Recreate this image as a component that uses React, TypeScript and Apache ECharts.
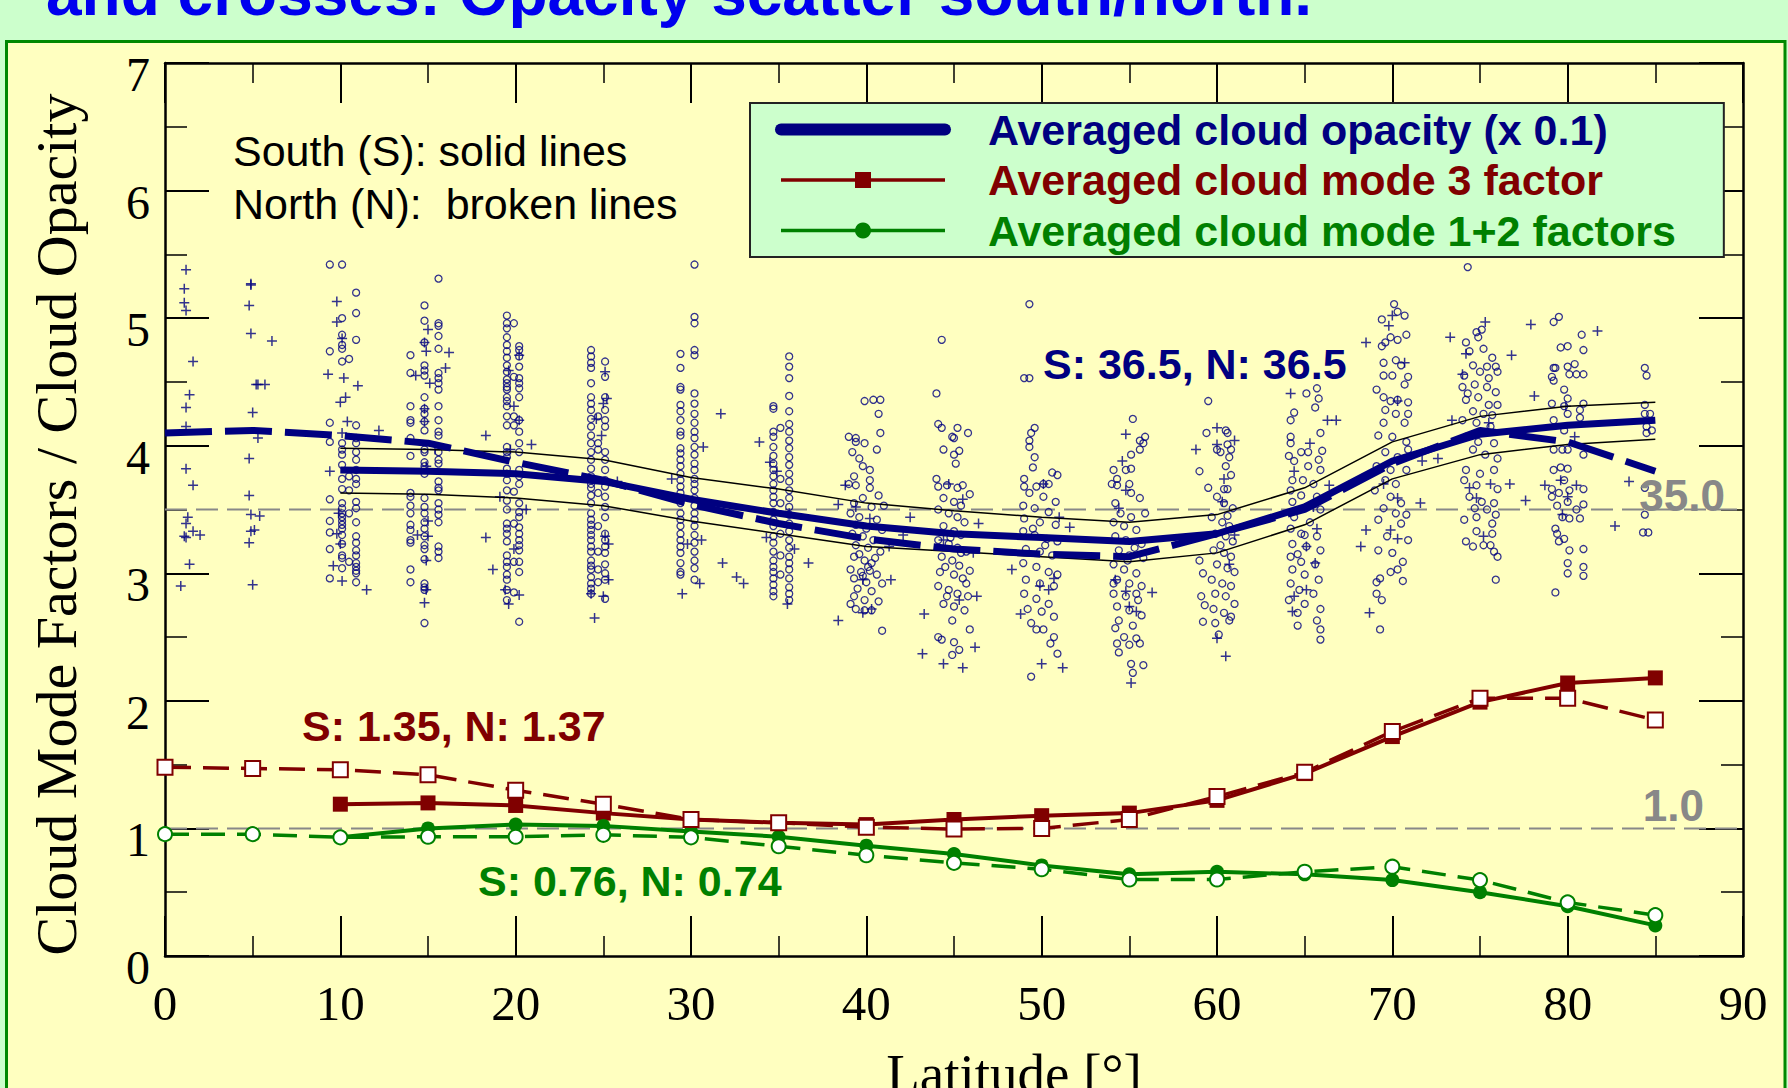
import React, { useEffect, useRef } from "react";
import * as echarts from "echarts";

const NAVY = "#000080";
const DRED = "#800000";
const GREEN = "#008000";
const GRAY = "#888888";

const LEG1 = "Averaged cloud opacity (x 0.1)";
const LEG2 = "Averaged cloud mode 3 factor";
const LEG3 = "Averaged cloud mode 1+2 factors";

// latitude bins
const latS = [10, 15, 20, 25, 30, 35, 40, 45, 50, 55, 60, 65, 70, 75, 80, 85];
const latN = [0, 5, 10, 15, 20, 25, 30, 35, 40, 45, 50, 55, 60, 65, 70, 75, 80, 85];

// averaged cloud opacity (x 0.1)
const opacityS = [3.81, 3.8, 3.78, 3.72, 3.58, 3.47, 3.37, 3.31, 3.28, 3.25, 3.31, 3.52, 3.88, 4.09, 4.16, 4.2];
const opacityN = [4.1, 4.12, 4.08, 4.02, 3.87, 3.73, 3.54, 3.39, 3.27, 3.19, 3.15, 3.13, 3.31, 3.5, 3.86, 4.12, 4.03, 3.8];
const opacitySUpper = [3.98, 3.97, 3.95, 3.89, 3.75, 3.66, 3.55, 3.49, 3.44, 3.4, 3.46, 3.67, 4.03, 4.23, 4.31, 4.34];
const opacitySLower = [3.63, 3.62, 3.59, 3.53, 3.41, 3.31, 3.21, 3.17, 3.13, 3.09, 3.16, 3.38, 3.74, 3.93, 4.01, 4.05];

// cloud mode factors
const mode3S = [1.19, 1.2, 1.18, 1.12, 1.07, 1.045, 1.03, 1.07, 1.1, 1.12, 1.22, 1.43, 1.72, 1.99, 2.14, 2.18];
const mode3N = [1.48, 1.47, 1.46, 1.42, 1.3, 1.19, 1.07, 1.045, 1.01, 0.995, 1.0, 1.07, 1.25, 1.44, 1.76, 2.02, 2.02, 1.85];
const mode12S = [0.93, 1.0, 1.03, 1.02, 0.975, 0.935, 0.865, 0.8, 0.71, 0.64, 0.66, 0.64, 0.595, 0.5, 0.39, 0.24];
const mode12N = [0.955, 0.955, 0.93, 0.935, 0.935, 0.95, 0.93, 0.86, 0.79, 0.73, 0.68, 0.6, 0.6, 0.66, 0.7, 0.595, 0.42, 0.32];

// reference levels
const refLevels = [3.5, 1.0];
const refLabels = ["35.0", "1.0"];
const xRange = [0, 90];
const yRange = [0, 7];

// south opacity scatter (circles), columns: [latitude, values]
const southCols = [
  [9.4, [5.42, 4.74, 4.18, 4.03, 3.58, 3.41, 3.32, 3.19, 2.96]],
  [10.1, [5.42, 5.0, 4.87, 4.79, 4.76, 4.66, 4.02, 3.97, 3.93, 3.85, 3.74, 3.66, 3.55, 3.51, 3.47, 3.44, 3.41, 3.38, 3.35, 3.3, 3.23, 3.14, 3.12, 3.04]],
  [10.5, [4.68, 3.76, 3.65, 3.47, 3.09]],
  [10.9, [5.2, 5.04, 4.83, 4.16, 4.06, 4.02, 3.95, 3.89, 3.81, 3.74, 3.7, 3.56, 3.51, 3.4, 3.29, 3.24, 3.18, 3.14, 3.08, 3.05, 3.02, 3.0, 2.93]],
  [14.0, [4.71, 4.57, 4.31, 4.2, 4.18, 4.06, 3.92, 3.63, 3.6, 3.53, 3.47, 3.38, 3.34, 3.26, 3.24, 3.03, 2.93]],
  [14.8, [5.1, 4.98, 4.81, 4.63, 4.59, 4.55, 4.38, 4.29, 4.25, 4.19, 4.12, 3.97, 3.95, 3.87, 3.84, 3.78, 3.59, 3.52, 3.47, 3.4, 3.35, 3.29, 3.22, 3.19, 3.11, 2.92, 2.89, 2.87, 2.61]],
  [15.6, [5.31, 4.96, 4.94, 4.86, 4.76, 4.57, 4.53, 4.49, 4.44, 4.31, 4.2, 4.11, 4.08, 3.95, 3.89, 3.86, 3.72, 3.67, 3.65, 3.55, 3.5, 3.46, 3.4, 3.21, 3.17, 3.12]],
  [19.5, [5.02, 4.96, 4.92, 4.85, 4.79, 4.74, 4.69, 4.63, 4.58, 4.52, 4.49, 4.46, 4.44, 4.38, 4.35, 4.31, 4.23, 4.16, 3.99, 3.95, 3.91, 3.82, 3.78, 3.73, 3.65, 3.57, 3.5, 3.39, 3.35, 3.31, 3.25, 3.14, 3.09, 3.05, 2.99, 2.95, 2.87, 2.79]],
  [19.9, [4.96, 4.54, 4.23, 4.16, 3.64, 3.39, 3.09, 2.85]],
  [20.2, [4.78, 4.75, 4.7, 4.62, 4.53, 4.49, 4.45, 4.38, 4.2, 4.11, 4.02, 3.95, 3.81, 3.76, 3.7, 3.55, 3.48, 3.44, 3.36, 3.31, 3.26, 3.22, 3.18, 3.09, 3.01, 2.62]],
  [24.3, [4.75, 4.7, 4.65, 4.61, 4.49, 4.38, 4.33, 4.28, 4.21, 4.15, 4.08, 4.02, 3.95, 3.89, 3.82, 3.76, 3.7, 3.67, 3.61, 3.55, 3.47, 3.42, 3.38, 3.34, 3.3, 3.26, 3.21, 3.17, 3.1, 3.06, 3.03, 2.97, 2.92, 2.88, 2.84]],
  [24.7, [4.23, 4.02, 3.97, 3.63, 3.37, 3.17, 3.03, 2.93]],
  [25.1, [4.66, 4.54, 4.38, 4.28, 4.2, 4.15, 3.95, 3.89, 3.81, 3.73, 3.68, 3.6, 3.52, 3.44, 3.31, 3.26, 3.21, 3.16, 3.07, 3.0, 2.95, 2.8]],
  [29.4, [4.72, 4.61, 4.46, 4.44, 4.32, 4.27, 4.2, 4.11, 4.08, 3.98, 3.94, 3.89, 3.84, 3.78, 3.73, 3.68, 3.63, 3.55, 3.47, 3.42, 3.37, 3.31, 3.26, 3.21, 3.16, 3.08, 3.01, 2.99]],
  [30.2, [5.42, 5.01, 4.96, 4.75, 4.71, 4.41, 4.33, 4.25, 4.18, 4.11, 4.06, 3.99, 3.93, 3.86, 3.81, 3.74, 3.7, 3.65, 3.59, 3.53, 3.47, 3.42, 3.37, 3.3, 3.24, 3.17, 3.1, 3.04, 2.95]],
  [34.7, [4.31, 4.29, 4.11, 4.07, 3.99, 3.92, 3.86, 3.81, 3.76, 3.7, 3.65, 3.6, 3.55, 3.48, 3.42, 3.37, 3.29, 3.24, 3.17, 3.1, 3.05, 3.01, 2.96, 2.91, 2.86, 2.82]],
  [35.1, [4.14, 3.74, 3.55, 3.31, 3.14, 2.99]],
  [35.6, [4.7, 4.62, 4.53, 4.39, 4.27, 4.17, 4.11, 4.04, 3.98, 3.91, 3.85, 3.78, 3.72, 3.65, 3.59, 3.52, 3.46, 3.39, 3.33, 3.26, 3.2, 3.13, 3.08, 3.03, 2.96, 2.89, 2.84, 2.79]],
];

const south40 = [[40.4,4.36],[40.8,4.36],[39.9,4.35],[40.7,4.25],[40.8,4.1],[39.0,4.07],[39.4,4.06],[39.9,4.02],[39.4,4.03],[39.2,3.95],[40.6,3.97],[39.6,3.9],[39.8,3.84],[40.2,3.81],[39.3,3.76],[40.2,3.73],[39.0,3.7],[39.4,3.69],[40.2,3.67],[40.7,3.61],[39.8,3.59],[39.3,3.55],[40.3,3.52],[41.0,3.53],[39.1,3.47],[39.6,3.44],[40.6,3.42],[39.4,3.38],[40.0,3.35],[40.9,3.34],[39.2,3.31],[39.8,3.29],[40.4,3.26],[39.4,3.22],[40.1,3.2],[40.8,3.17],[39.3,3.13],[39.9,3.1],[40.3,3.08],[39.1,3.03],[39.7,3.01],[40.6,2.99],[39.3,2.96],[40.0,2.93],[40.9,2.92],[39.5,2.88],[40.3,2.86],[39.3,2.82],[39.9,2.79],[40.7,2.78],[39.1,2.76],[39.4,2.72],[39.9,2.71],[40.3,2.71],[40.9,2.55],[40.1,3.05],[39.6,3.15],[40.5,3.12],[39.8,2.98],[40.2,3.02]];
const south45 = [[44.3,4.83],[44.0,4.41],[44.1,4.17],[44.3,4.14],[45.2,4.14],[45.8,4.1],[44.9,4.07],[45.0,4.06],[44.4,3.97],[45.3,3.96],[45.0,3.93],[45.1,3.86],[44.0,3.74],[44.1,3.68],[44.6,3.69],[45.2,3.67],[45.5,3.69],[45.9,3.62],[44.4,3.59],[45.0,3.56],[45.4,3.53],[44.1,3.5],[44.7,3.47],[45.2,3.44],[45.6,3.4],[44.4,3.37],[45.0,3.33],[45.4,3.3],[44.1,3.26],[44.7,3.23],[45.2,3.2],[45.7,3.17],[44.3,3.13],[44.9,3.1],[45.3,3.06],[44.2,3.01],[45.0,2.99],[45.5,2.96],[45.9,3.02],[44.1,2.9],[44.7,2.87],[45.2,2.84],[45.8,2.82],[44.4,2.76],[45.0,2.74],[45.6,2.71],[44.9,2.63],[45.9,2.56],[44.1,2.5],[44.3,2.48],[45.0,2.46],[45.3,2.4],[44.9,2.36],[44.6,2.82],[45.7,2.92],[44.8,3.28],[45.4,3.16],[44.5,3.05]];
const south50 = [[49.3,5.11],[49.0,4.53],[49.3,4.53],[49.6,4.14],[49.4,4.1],[49.3,4.04],[49.3,3.99],[49.6,3.91],[49.5,3.83],[50.6,3.79],[50.9,3.77],[49.0,3.74],[49.0,3.68],[49.7,3.68],[50.1,3.7],[50.4,3.7],[49.3,3.63],[50.1,3.6],[50.8,3.56],[48.95,3.53],[49.6,3.51],[50.4,3.48],[49.0,3.43],[49.9,3.4],[50.8,3.38],[48.95,3.33],[49.6,3.3],[50.3,3.27],[50.9,3.25],[49.1,3.19],[49.9,3.17],[50.6,3.14],[48.95,3.08],[49.7,3.05],[50.4,3.01],[50.9,2.99],[49.1,2.95],[49.9,2.92],[50.7,2.9],[49.0,2.84],[49.7,2.8],[50.4,2.76],[49.2,2.72],[50.0,2.7],[50.7,2.66],[49.4,2.61],[50.1,2.56],[50.7,2.5],[50.9,2.37],[49.4,2.19],[50.5,2.45],[49.7,2.56],[50.2,3.22],[49.5,3.35]];
const south55 = [[55.2,4.21],[55.9,4.07],[55.6,4.04],[55.8,4.02],[55.6,3.97],[55.1,3.93],[54.1,3.81],[54.8,3.81],[55.1,3.82],[54.3,3.74],[54.0,3.7],[54.3,3.69],[55.0,3.7],[55.1,3.63],[55.6,3.59],[54.2,3.55],[54.5,3.47],[55.1,3.44],[55.9,3.47],[54.1,3.4],[54.7,3.37],[55.4,3.34],[54.2,3.29],[54.8,3.26],[55.7,3.23],[54.4,3.18],[55.0,3.14],[55.8,3.12],[54.1,3.07],[54.7,3.03],[55.4,3.0],[54.3,2.95],[55.0,2.92],[55.7,2.9],[54.1,2.84],[54.8,2.82],[55.5,2.79],[54.3,2.74],[55.0,2.71],[55.7,2.67],[54.4,2.63],[55.2,2.59],[54.2,2.57],[54.7,2.5],[55.4,2.49],[54.3,2.45],[55.0,2.44],[55.6,2.45],[54.4,2.38],[55.1,2.29],[55.8,2.28],[55.2,2.22],[54.1,2.92],[55.4,2.84],[54.9,3.1],[55.3,3.2]];
const south60 = [[60.5,4.12],[60.6,4.1],[60.0,3.97],[60.2,3.95],[60.8,3.97],[60.6,4.01],[60.7,3.91],[60.5,3.84],[60.8,3.77],[60.4,3.66],[60.6,3.66],[60.0,3.6],[60.4,3.55],[60.9,3.51],[59.7,3.44],[60.3,3.4],[60.7,3.37],[59.9,3.31],[60.5,3.29],[60.9,3.25],[59.8,3.18],[60.4,3.16],[60.8,3.13],[60.0,3.07],[60.6,3.04],[61.0,3.01],[59.7,2.95],[60.3,2.92],[60.8,2.9],[59.9,2.84],[60.5,2.82],[61.0,2.76],[59.8,2.72],[60.4,2.69],[60.8,2.66],[59.9,2.61],[60.1,2.52],[60.7,2.63],[59.0,3.8],[59.4,4.1],[59.5,4.35],[59.5,3.67],[59.2,2.62],[59.1,2.82],[59.3,2.75],[59.2,3.0],[59.0,3.1],[60.2,3.22],[60.6,3.45]];
const south65 = [[65.7,4.45],[65.1,4.41],[65.8,4.37],[64.4,4.26],[65.6,4.3],[64.2,4.2],[65.9,4.1],[64.2,4.07],[64.2,4.02],[66.0,3.96],[64.8,3.95],[65.2,3.95],[64.1,3.92],[65.8,3.89],[64.4,3.88],[65.2,3.84],[65.9,3.81],[64.3,3.73],[64.9,3.73],[65.5,3.7],[64.2,3.65],[64.8,3.61],[65.7,3.6],[64.3,3.56],[65.1,3.52],[65.9,3.5],[64.4,3.44],[65.3,3.4],[64.2,3.35],[64.8,3.31],[65.7,3.29],[64.3,3.23],[65.1,3.21],[65.9,3.18],[64.2,3.13],[64.8,3.09],[65.6,3.07],[64.3,3.03],[65.0,2.99],[65.8,2.95],[64.2,2.92],[64.7,2.87],[65.5,2.84],[64.1,2.79],[65.0,2.76],[65.9,2.72],[64.6,2.69],[65.7,2.63],[64.6,2.59],[65.9,2.56],[65.9,2.48],[65.0,3.3],[64.6,3.15]];
const south70 = [[70.1,5.11],[70.3,5.05],[70.7,5.02],[69.4,4.99],[69.9,4.85],[70.3,4.83],[70.8,4.87],[69.4,4.78],[69.6,4.81],[69.5,4.65],[70.2,4.67],[70.5,4.63],[69.5,4.55],[70.0,4.55],[70.9,4.54],[70.7,4.48],[69.1,4.44],[69.5,4.38],[69.9,4.35],[70.3,4.36],[70.9,4.34],[69.6,4.28],[70.2,4.25],[70.9,4.25],[69.5,4.18],[70.7,4.18],[69.2,4.08],[70.0,4.07],[70.8,4.03],[69.6,3.95],[70.3,3.91],[70.9,3.97],[69.1,3.84],[69.9,3.81],[70.8,3.81],[69.6,3.73],[70.2,3.7],[69.0,3.65],[69.9,3.6],[70.5,3.55],[69.5,3.51],[70.2,3.47],[70.8,3.46],[69.2,3.42],[69.7,3.29],[70.5,3.39],[70.9,3.26],[69.2,3.18],[70.0,3.16],[70.6,3.09],[69.9,3.01],[70.3,3.03],[69.1,2.93],[70.6,2.94],[69.1,2.84],[69.4,2.79],[69.3,2.56],[69.3,2.96]];
const south75 = [[74.3,5.4],[74.8,4.89],[75.1,4.91],[74.9,4.85],[74.2,4.81],[75.2,4.76],[74.4,4.74],[75.7,4.69],[74.6,4.63],[75.4,4.62],[75.9,4.62],[75.0,4.58],[74.1,4.55],[75.5,4.53],[76.0,4.58],[74.7,4.48],[75.4,4.46],[74.0,4.46],[75.9,4.42],[74.3,4.41],[74.9,4.38],[74.2,4.36],[75.5,4.32],[76.0,4.32],[74.6,4.27],[75.2,4.25],[75.7,4.24],[74.0,4.2],[74.8,4.18],[75.6,4.15],[74.2,4.07],[74.9,4.03],[75.8,4.02],[74.6,3.97],[75.3,3.93],[76.0,3.9],[74.2,3.81],[75.0,3.78],[75.8,3.81],[74.1,3.73],[74.8,3.69],[76.0,3.66],[74.4,3.6],[75.1,3.56],[75.8,3.55],[74.7,3.51],[75.4,3.5],[75.9,3.46],[74.1,3.42],[74.8,3.44],[75.7,3.39],[74.8,3.33],[75.7,3.31],[74.2,3.25],[74.6,3.21],[75.2,3.22],[75.6,3.22],[75.8,3.17],[76.0,3.13],[75.9,2.95]];
const south80 = [[79.2,4.97],[79.5,5.01],[79.6,4.77],[80.0,4.78],[80.8,4.87],[80.9,4.75],[79.2,4.61],[79.3,4.61],[80.0,4.62],[80.4,4.64],[80.9,4.56],[79.1,4.54],[79.2,4.51],[80.1,4.56],[80.5,4.56],[79.8,4.44],[80.0,4.37],[79.1,4.33],[79.8,4.31],[80.0,4.25],[80.7,4.28],[80.9,4.33],[80.7,4.22],[79.2,4.2],[79.8,4.12],[79.2,3.97],[79.7,3.97],[80.0,3.97],[80.9,3.93],[79.2,3.81],[79.6,3.83],[80.0,3.82],[79.8,3.73],[79.1,3.66],[80.1,3.65],[80.9,3.66],[79.1,3.6],[79.5,3.63],[80.0,3.56],[79.4,3.53],[80.9,3.54],[80.5,3.5],[79.7,3.44],[80.1,3.43],[80.7,3.43],[79.3,3.35],[79.4,3.31],[79.5,3.25],[79.8,3.27],[80.1,3.18],[80.9,3.19],[80.0,3.08],[80.9,3.05],[80.9,2.98],[80.0,3.0],[79.3,2.85]];
const south85 = [[84.4,4.61],[84.5,4.55],[84.4,4.32],[84.4,4.25],[84.7,4.25],[84.5,4.15],[84.8,4.12],[84.5,4.1],[84.4,3.67],[84.4,3.46],[84.3,3.32],[84.6,3.32]];

// north opacity scatter (crosses)
const north0 = [[1.2,5.38],[1.1,5.23],[1.1,5.12],[1.2,5.06],[1.6,4.66],[1.4,4.4],[1.2,4.3],[1.2,4.15],[1.2,3.82],[1.6,3.69],[1.3,3.44],[1.2,3.39],[1.1,3.29],[1.6,3.33],[2.0,3.3],[1.2,3.28],[1.4,3.07],[0.9,2.9]];
const north5 = [[4.9,5.27],[4.9,5.26],[4.8,5.1],[4.9,4.88],[6.1,4.82],[5.2,4.48],[5.3,4.48],[5.7,4.48],[5.0,4.26],[5.3,4.06],[4.8,3.9],[4.8,3.61],[4.9,3.46],[5.4,3.45],[4.9,3.33],[5.1,3.34],[4.8,3.24],[5.0,2.91]];
const north10 = [[9.8,5.13],[9.8,4.97],[10.1,4.84],[9.3,4.56],[10.2,4.53],[11.0,4.47],[10.0,4.34],[10.3,4.38],[10.4,4.19],[10.1,4.1],[12.2,4.12],[9.4,3.8],[9.9,3.47],[9.8,3.31],[10.0,3.23],[9.6,3.06],[10.1,2.94],[11.5,2.87]];
const north15 = [[15.0,4.91],[14.9,4.74],[16.2,4.73],[14.8,4.81],[16.0,4.61],[14.3,4.55],[15.1,4.49],[14.8,4.29],[14.8,4.19],[15.4,3.97],[14.9,3.84],[15.0,3.41],[15.0,3.29],[14.4,3.3],[14.9,3.1],[14.9,2.87],[14.8,2.77]];
const north20 = [[20.2,4.71],[19.6,4.59],[19.9,4.31],[20.2,4.2],[18.3,4.08],[20.9,4.01],[19.7,3.97],[19.1,3.6],[20.6,3.5],[18.3,3.28],[19.9,3.19],[18.7,3.03],[19.4,2.87],[20.2,2.83],[19.6,2.76]];
const north25 = [[25.1,4.58],[25.2,4.37],[25.0,4.33],[24.6,4.21],[24.9,4.08],[25.8,3.72],[25.1,3.29],[25.3,3.23],[25.3,2.95],[24.5,2.65],[24.3,2.84],[25.0,2.82]];
const north30 = [[28.9,3.74],[29.8,3.23],[29.5,2.84],[30.7,3.99],[30.6,3.26],[30.5,2.92],[31.7,4.25],[31.8,3.08],[32.6,2.97],[33.0,2.92]];
const north35 = [[33.9,4.03],[34.5,3.87],[34.9,3.8],[34.3,3.28],[35.5,2.76],[35.9,3.19],[36.7,3.08],[38.4,3.54],[35.6,3.47]];
const north40 = [[38.8,3.69],[42.1,3.3],[42.5,3.44],[41.4,2.95],[41.3,3.21],[38.4,2.63],[39.8,2.69],[40.3,2.72],[39.8,2.95],[39.4,3.52],[40.2,3.43]];
const north45 = [[44.7,3.7],[45.5,3.58],[46.4,3.39],[44.4,3.26],[46.1,3.16],[43.3,2.68],[43.2,2.37],[44.4,2.29],[45.5,2.26],[46.2,2.42],[45.3,2.79],[46.3,2.82]];
const north50 = [[48.3,3.03],[48.8,2.68],[50.0,2.29],[51.2,2.26],[51.6,3.36],[51.0,3.44],[50.4,2.87],[49.9,2.9],[50.7,2.96],[50.1,3.7]];
const north55 = [[54.8,4.09],[54.6,3.88],[54.8,3.65],[54.4,3.51],[56.3,2.85],[55.0,2.74],[55.4,2.7],[55.1,2.14],[54.8,2.86],[54.2,2.95]];
const north60 = [[60.0,4.14],[60.0,4.01],[61.0,4.04],[60.4,3.74],[60.3,3.56],[58.8,3.97],[60.0,2.49],[60.5,2.35],[61.0,3.3],[60.7,3.07]];
const north65 = [[64.2,4.41],[66.3,4.2],[66.8,4.2],[65.3,4.02],[64.4,3.8],[66.4,3.69],[65.5,3.52],[65.7,3.35],[65.1,3.21],[65.6,3.08],[65.1,2.87],[64.3,2.7],[64.4,2.82]];
const north70 = [[68.5,4.81],[70.0,5.02],[69.8,4.94],[70.7,4.65],[70.3,4.35],[73.4,4.2],[71.7,3.88],[72.6,3.9],[71.6,3.55],[68.5,3.34],[69.9,3.34],[70.3,3.27],[68.2,3.21],[68.7,2.69],[69.5,3.7],[70.3,3.59]];
const north75 = [[75.3,4.97],[73.3,4.85],[74.2,4.72],[76.8,4.71],[74.0,4.56],[78.1,4.39],[75.5,4.18],[76.7,3.7],[77.6,3.57],[74.4,3.67],[74.8,3.59],[75.6,3.7],[75.2,3.29]];
const north80 = [[77.9,4.95],[81.7,4.9],[78.7,3.69],[79.6,3.73],[80.5,3.69],[80.0,3.6],[79.7,3.46],[82.7,3.37],[83.5,3.72],[79.9,4.31],[80.4,4.07]];

const pairs = (xs: number[], ys: number[]) => xs.map((x, i) => [x, ys[i]]);
const flatCols = (cols: any[]) => cols.flatMap(([lat, vals]: [number, number[]]) => vals.map((v) => [lat, v]));

const southScatter = [
  ...flatCols(southCols), ...south40, ...south45, ...south50, ...south55, ...south60,
  ...south65, ...south70, ...south75, ...south80, ...south85,
];
const northScatter = [
  ...north0, ...north5, ...north10, ...north15, ...north20, ...north25, ...north30, ...north35,
  ...north40, ...north45, ...north50, ...north55, ...north60, ...north65, ...north70, ...north75, ...north80,
];

const SANS = '"Liberation Sans", Arial, Helvetica, sans-serif';
const SERIF = '"Liberation Serif", "Times New Roman", Times, serif';

function buildOption(): any {
  const axisLineStyle = { color: "#000", width: 2.5 };
  const tickStyle = { color: "#000", width: 2 };
  const minorStyle = { color: "#000", width: 1.5 };
  const xBase = {
    type: "value",
    min: xRange[0],
    max: xRange[1],
    interval: 10,
    axisLine: { show: true, onZero: false, lineStyle: axisLineStyle },
    axisTick: { show: true, inside: true, length: 40, lineStyle: tickStyle },
    minorTick: { show: true, splitNumber: 2, length: 20, lineStyle: minorStyle },
    splitLine: { show: false },
    minorSplitLine: { show: false },
  };
  const yBase = {
    type: "value",
    min: yRange[0],
    max: yRange[1],
    interval: 1,
    axisLine: { show: true, onZero: false, lineStyle: axisLineStyle },
    axisTick: { show: true, inside: true, length: 44, lineStyle: tickStyle },
    minorTick: { show: true, splitNumber: 2, length: 22, lineStyle: minorStyle },
    splitLine: { show: false },
    minorSplitLine: { show: false },
  };

  const refSeries = refLevels.map((lv, i) => ({
    name: "Reference " + refLabels[i],
    type: "line",
    data: [[xRange[0], lv], [xRange[1], lv]],
    symbol: "none",
    smooth: false,
    silent: true,
    lineStyle: { color: GRAY, width: 2, type: [22, 9] },
    z: 1,
  }));

  const txt = (x: number, y: number, text: string, fill: string, size: number, weight: string, align = "left") => ({
    type: "text",
    x,
    y,
    z: 10,
    silent: true,
    style: { text, fill, fontFamily: SANS, fontWeight: weight, fontSize: size, verticalAlign: "middle", align },
  });

  return {
    animation: false,
    backgroundColor: "#CCFFCC",
    grid: { left: 165, top: 63, width: 1578, height: 893, containLabel: false, outerBoundsMode: "none" },
    xAxis: [
      {
        ...xBase,
        position: "bottom",
        axisLabel: { show: true, margin: 23, fontFamily: SERIF, fontSize: 49, color: "#000" },
        name: "Latitude [°]",
        nameLocation: "middle",
        nameGap: 90,
        nameMoveOverlap: false,
        nameTextStyle: { fontFamily: SERIF, fontSize: 55, color: "#000", padding: [0, 0, 0, 120] },
      },
      { ...xBase, position: "top", axisLabel: { show: false } },
    ],
    yAxis: [
      {
        ...yBase,
        position: "left",
        axisLabel: {
          show: true, margin: 15, fontFamily: SERIF, fontSize: 48, color: "#000",
          verticalAlign: "top", lineHeight: 23,
        },
        name: "Cloud Mode Factors / Cloud Opacity",
        nameLocation: "middle",
        nameRotate: 90,
        nameGap: 80,
        nameMoveOverlap: false,
        nameTextStyle: { fontFamily: SERIF, fontSize: 58, color: "#000", padding: [0, 30, 0, 0] },
      },
      { ...yBase, position: "right", axisLabel: { show: false } },
    ],
    legend: {
      show: true,
      orient: "vertical",
      left: 750,
      top: 103,
      selectedMode: false,
      itemWidth: 164,
      itemHeight: 20,
      itemGap: 7.5,
      padding: [5, 48, 5, 25],
      backgroundColor: "#CCFFCC",
      borderColor: "#222",
      borderWidth: 2,
      borderRadius: 0,
      textStyle: { fontFamily: SANS, fontWeight: "bold", fontSize: 43, lineHeight: 42, padding: [0, 0, 0, 38] },
      data: [
        { name: LEG1, textStyle: { color: NAVY }, itemStyle: { opacity: 0 }, lineStyle: { width: 12, cap: "round", color: NAVY } },
        { name: LEG2, textStyle: { color: DRED }, lineStyle: { width: 3.5, color: DRED } },
        { name: LEG3, textStyle: { color: GREEN }, lineStyle: { width: 3.5, color: GREEN } },
      ],
    },
    graphic: [
      {
        type: "rect",
        z: -1,
        silent: true,
        shape: { x: 6.5, y: 41.5, width: 1778.5, height: 1100 },
        style: { fill: "#FFFFC0", stroke: "#008800", lineWidth: 3 },
      },
      txt(46, -7, "and crosses: Opacity scatter south/north.", "#0000EE", 64, "bold"),
      txt(233, 151, "South (S): solid lines", "#000", 43, "normal"),
      txt(233, 204, "North (N):  broken lines", "#000", 43, "normal"),
      txt(1043, 364, "S: 36.5, N: 36.5", NAVY, 43, "bold"),
      txt(302, 726, "S: 1.35, N: 1.37", DRED, 43, "bold"),
      txt(478, 881, "S: 0.76, N: 0.74", GREEN, 43, "bold"),
      txt(1725, 495, refLabels[0], GRAY, 44, "bold", "right"),
      txt(1704, 805, refLabels[1], GRAY, 44, "bold", "right"),
    ],
    series: [
      {
        name: LEG1, type: "line", data: pairs(latS, opacityS), symbol: "none", smooth: false,
        lineStyle: { color: NAVY, width: 7 }, itemStyle: { color: NAVY }, z: 5,
      },
      {
        name: LEG2, type: "line", data: pairs(latS, mode3S), symbol: "rect", symbolSize: 15, smooth: false,
        itemStyle: { color: DRED }, lineStyle: { color: DRED, width: 4 }, z: 6,
      },
      {
        name: LEG3, type: "line", data: pairs(latS, mode12S), symbol: "circle", symbolSize: 14, smooth: false,
        itemStyle: { color: GREEN }, lineStyle: { color: GREEN, width: 4 }, z: 6,
      },
      {
        name: LEG1, type: "line", data: pairs(latN, opacityN), symbol: "none", smooth: false,
        lineStyle: { color: NAVY, width: 7, type: [47, 13] }, itemStyle: { color: NAVY }, z: 5,
      },
      {
        name: LEG2, type: "line", data: pairs(latN, mode3N), symbol: "rect", symbolSize: 15, smooth: false,
        itemStyle: { color: "#FFFFFF", borderColor: DRED, borderWidth: 2 },
        lineStyle: { color: DRED, width: 3.5, type: [26, 12] }, z: 6,
      },
      {
        name: LEG3, type: "line", data: pairs(latN, mode12N), symbol: "circle", symbolSize: 14, smooth: false,
        itemStyle: { color: "#FFFFFF", borderColor: GREEN, borderWidth: 2 },
        lineStyle: { color: GREEN, width: 3.5, type: [24, 12] }, z: 6,
      },
      {
        name: "South opacity upper bound", type: "line", data: pairs(latS, opacitySUpper), symbol: "none", smooth: false,
        lineStyle: { color: "#000", width: 1.5 }, z: 4, silent: true,
      },
      {
        name: "South opacity lower bound", type: "line", data: pairs(latS, opacitySLower), symbol: "none", smooth: false,
        lineStyle: { color: "#000", width: 1.5 }, z: 4, silent: true,
      },
      ...refSeries,
      {
        name: "South opacity (circles)", type: "scatter", data: southScatter, symbol: "circle", symbolSize: 7,
        itemStyle: { color: "rgba(0,0,0,0)", borderColor: NAVY, borderWidth: 1.3 }, z: 2, silent: true,
      },
      {
        name: "North opacity (crosses)", type: "scatter", data: northScatter,
        symbol: "path://M0,5L10,5M5,0L5,10", symbolSize: 10,
        itemStyle: { color: "rgba(0,0,0,0)", borderColor: NAVY, borderWidth: 1.5 }, z: 2, silent: true,
      },
    ],
  };
}

export default function App() {
  const ref = useRef<HTMLDivElement>(null);
  useEffect(() => {
    if (!ref.current) return;
    const chart = echarts.init(ref.current, null, { renderer: "svg" });
    chart.setOption(buildOption());
    return () => chart.dispose();
  }, []);
  return (
    <div
      ref={ref}
      style={{ position: "fixed", left: 0, top: 0, width: 1788, height: 1088, margin: 0, padding: 0 }}
    />
  );
}
